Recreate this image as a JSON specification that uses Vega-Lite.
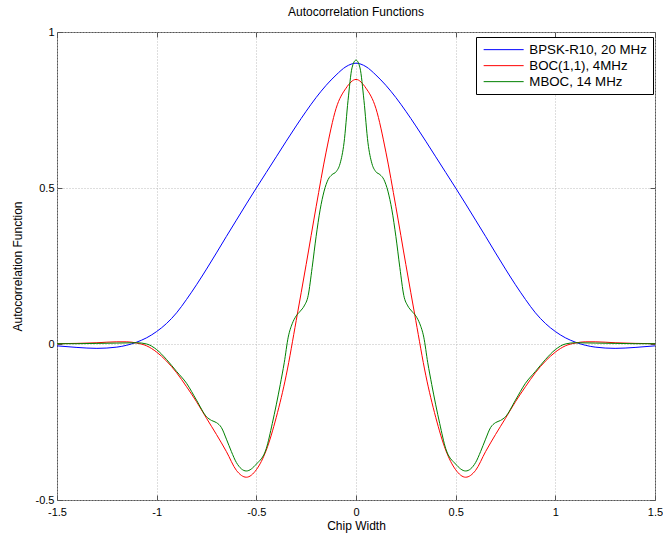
{
  "$schema": "https://vega.github.io/schema/vega-lite/v6.json",
  "width": 598,
  "height": 468,
  "autosize": {"type": "none"},
  "padding": {"left": 57, "top": 32, "right": 8, "bottom": 37},
  "background": "white",
  "config": {
    "font": "Liberation Sans",
    "view": {"stroke": "#555555", "strokeWidth": 1}
  },
  "title": {"text": "Autocorrelation Functions", "fontSize": 12, "fontWeight": "normal", "offset": 7, "color": "black", "font": "Liberation Sans"},
  "datasets": {
    "curves": [
      {"s": "BPSK-R10, 20 MHz", "x": -1.5, "y": -0.006},
      {"s": "BPSK-R10, 20 MHz", "x": -1.4, "y": -0.011},
      {"s": "BPSK-R10, 20 MHz", "x": -1.3, "y": -0.014},
      {"s": "BPSK-R10, 20 MHz", "x": -1.2, "y": -0.01},
      {"s": "BPSK-R10, 20 MHz", "x": -1.15, "y": -0.004},
      {"s": "BPSK-R10, 20 MHz", "x": -1.1, "y": 0.006},
      {"s": "BPSK-R10, 20 MHz", "x": -1.05, "y": 0.02},
      {"s": "BPSK-R10, 20 MHz", "x": -1.0, "y": 0.04},
      {"s": "BPSK-R10, 20 MHz", "x": -0.95, "y": 0.066},
      {"s": "BPSK-R10, 20 MHz", "x": -0.9, "y": 0.1},
      {"s": "BPSK-R10, 20 MHz", "x": -0.85, "y": 0.143},
      {"s": "BPSK-R10, 20 MHz", "x": -0.8, "y": 0.19},
      {"s": "BPSK-R10, 20 MHz", "x": -0.75, "y": 0.24},
      {"s": "BPSK-R10, 20 MHz", "x": -0.7, "y": 0.292},
      {"s": "BPSK-R10, 20 MHz", "x": -0.65, "y": 0.345},
      {"s": "BPSK-R10, 20 MHz", "x": -0.6, "y": 0.397},
      {"s": "BPSK-R10, 20 MHz", "x": -0.55, "y": 0.449},
      {"s": "BPSK-R10, 20 MHz", "x": -0.5, "y": 0.5},
      {"s": "BPSK-R10, 20 MHz", "x": -0.45, "y": 0.55},
      {"s": "BPSK-R10, 20 MHz", "x": -0.4, "y": 0.6},
      {"s": "BPSK-R10, 20 MHz", "x": -0.35, "y": 0.65},
      {"s": "BPSK-R10, 20 MHz", "x": -0.3, "y": 0.699},
      {"s": "BPSK-R10, 20 MHz", "x": -0.25, "y": 0.746},
      {"s": "BPSK-R10, 20 MHz", "x": -0.2, "y": 0.79},
      {"s": "BPSK-R10, 20 MHz", "x": -0.15, "y": 0.829},
      {"s": "BPSK-R10, 20 MHz", "x": -0.1, "y": 0.862},
      {"s": "BPSK-R10, 20 MHz", "x": -0.05, "y": 0.889},
      {"s": "BPSK-R10, 20 MHz", "x": 0, "y": 0.9},
      {"s": "BPSK-R10, 20 MHz", "x": 0.05, "y": 0.889},
      {"s": "BPSK-R10, 20 MHz", "x": 0.1, "y": 0.862},
      {"s": "BPSK-R10, 20 MHz", "x": 0.15, "y": 0.829},
      {"s": "BPSK-R10, 20 MHz", "x": 0.2, "y": 0.79},
      {"s": "BPSK-R10, 20 MHz", "x": 0.25, "y": 0.746},
      {"s": "BPSK-R10, 20 MHz", "x": 0.3, "y": 0.699},
      {"s": "BPSK-R10, 20 MHz", "x": 0.35, "y": 0.65},
      {"s": "BPSK-R10, 20 MHz", "x": 0.4, "y": 0.6},
      {"s": "BPSK-R10, 20 MHz", "x": 0.45, "y": 0.55},
      {"s": "BPSK-R10, 20 MHz", "x": 0.5, "y": 0.5},
      {"s": "BPSK-R10, 20 MHz", "x": 0.55, "y": 0.449},
      {"s": "BPSK-R10, 20 MHz", "x": 0.6, "y": 0.397},
      {"s": "BPSK-R10, 20 MHz", "x": 0.65, "y": 0.345},
      {"s": "BPSK-R10, 20 MHz", "x": 0.7, "y": 0.292},
      {"s": "BPSK-R10, 20 MHz", "x": 0.75, "y": 0.24},
      {"s": "BPSK-R10, 20 MHz", "x": 0.8, "y": 0.19},
      {"s": "BPSK-R10, 20 MHz", "x": 0.85, "y": 0.143},
      {"s": "BPSK-R10, 20 MHz", "x": 0.9, "y": 0.1},
      {"s": "BPSK-R10, 20 MHz", "x": 0.95, "y": 0.066},
      {"s": "BPSK-R10, 20 MHz", "x": 1.0, "y": 0.04},
      {"s": "BPSK-R10, 20 MHz", "x": 1.05, "y": 0.02},
      {"s": "BPSK-R10, 20 MHz", "x": 1.1, "y": 0.006},
      {"s": "BPSK-R10, 20 MHz", "x": 1.15, "y": -0.004},
      {"s": "BPSK-R10, 20 MHz", "x": 1.2, "y": -0.01},
      {"s": "BPSK-R10, 20 MHz", "x": 1.3, "y": -0.014},
      {"s": "BPSK-R10, 20 MHz", "x": 1.4, "y": -0.011},
      {"s": "BPSK-R10, 20 MHz", "x": 1.5, "y": -0.006},

      {"s": "BOC(1,1), 4MHz", "x": -1.5, "y": 0.001},
      {"s": "BOC(1,1), 4MHz", "x": -1.4, "y": 0.002},
      {"s": "BOC(1,1), 4MHz", "x": -1.3, "y": 0.004},
      {"s": "BOC(1,1), 4MHz", "x": -1.2, "y": 0.007},
      {"s": "BOC(1,1), 4MHz", "x": -1.15, "y": 0.007},
      {"s": "BOC(1,1), 4MHz", "x": -1.1, "y": 0.003},
      {"s": "BOC(1,1), 4MHz", "x": -1.05, "y": -0.006},
      {"s": "BOC(1,1), 4MHz", "x": -1.0, "y": -0.026},
      {"s": "BOC(1,1), 4MHz", "x": -0.95, "y": -0.055},
      {"s": "BOC(1,1), 4MHz", "x": -0.9, "y": -0.092},
      {"s": "BOC(1,1), 4MHz", "x": -0.85, "y": -0.137},
      {"s": "BOC(1,1), 4MHz", "x": -0.8, "y": -0.185},
      {"s": "BOC(1,1), 4MHz", "x": -0.75, "y": -0.238},
      {"s": "BOC(1,1), 4MHz", "x": -0.7, "y": -0.29},
      {"s": "BOC(1,1), 4MHz", "x": -0.65, "y": -0.345},
      {"s": "BOC(1,1), 4MHz", "x": -0.6, "y": -0.405},
      {"s": "BOC(1,1), 4MHz", "x": -0.55, "y": -0.427},
      {"s": "BOC(1,1), 4MHz", "x": -0.5, "y": -0.403},
      {"s": "BOC(1,1), 4MHz", "x": -0.45, "y": -0.34},
      {"s": "BOC(1,1), 4MHz", "x": -0.4, "y": -0.235},
      {"s": "BOC(1,1), 4MHz", "x": -0.35, "y": -0.1},
      {"s": "BOC(1,1), 4MHz", "x": -0.3, "y": 0.075},
      {"s": "BOC(1,1), 4MHz", "x": -0.25, "y": 0.255},
      {"s": "BOC(1,1), 4MHz", "x": -0.2, "y": 0.44},
      {"s": "BOC(1,1), 4MHz", "x": -0.15, "y": 0.615},
      {"s": "BOC(1,1), 4MHz", "x": -0.1, "y": 0.755},
      {"s": "BOC(1,1), 4MHz", "x": -0.05, "y": 0.82},
      {"s": "BOC(1,1), 4MHz", "x": 0, "y": 0.848},
      {"s": "BOC(1,1), 4MHz", "x": 0.05, "y": 0.82},
      {"s": "BOC(1,1), 4MHz", "x": 0.1, "y": 0.755},
      {"s": "BOC(1,1), 4MHz", "x": 0.15, "y": 0.615},
      {"s": "BOC(1,1), 4MHz", "x": 0.2, "y": 0.44},
      {"s": "BOC(1,1), 4MHz", "x": 0.25, "y": 0.255},
      {"s": "BOC(1,1), 4MHz", "x": 0.3, "y": 0.075},
      {"s": "BOC(1,1), 4MHz", "x": 0.35, "y": -0.1},
      {"s": "BOC(1,1), 4MHz", "x": 0.4, "y": -0.235},
      {"s": "BOC(1,1), 4MHz", "x": 0.45, "y": -0.34},
      {"s": "BOC(1,1), 4MHz", "x": 0.5, "y": -0.403},
      {"s": "BOC(1,1), 4MHz", "x": 0.55, "y": -0.427},
      {"s": "BOC(1,1), 4MHz", "x": 0.6, "y": -0.405},
      {"s": "BOC(1,1), 4MHz", "x": 0.65, "y": -0.345},
      {"s": "BOC(1,1), 4MHz", "x": 0.7, "y": -0.29},
      {"s": "BOC(1,1), 4MHz", "x": 0.75, "y": -0.238},
      {"s": "BOC(1,1), 4MHz", "x": 0.8, "y": -0.185},
      {"s": "BOC(1,1), 4MHz", "x": 0.85, "y": -0.137},
      {"s": "BOC(1,1), 4MHz", "x": 0.9, "y": -0.092},
      {"s": "BOC(1,1), 4MHz", "x": 0.95, "y": -0.055},
      {"s": "BOC(1,1), 4MHz", "x": 1.0, "y": -0.026},
      {"s": "BOC(1,1), 4MHz", "x": 1.05, "y": -0.006},
      {"s": "BOC(1,1), 4MHz", "x": 1.1, "y": 0.003},
      {"s": "BOC(1,1), 4MHz", "x": 1.15, "y": 0.007},
      {"s": "BOC(1,1), 4MHz", "x": 1.2, "y": 0.007},
      {"s": "BOC(1,1), 4MHz", "x": 1.3, "y": 0.004},
      {"s": "BOC(1,1), 4MHz", "x": 1.4, "y": 0.002},
      {"s": "BOC(1,1), 4MHz", "x": 1.5, "y": 0.001},

      {"s": "MBOC, 14 MHz", "x": -1.5, "y": 0.001},
      {"s": "MBOC, 14 MHz", "x": -1.4, "y": 0.001},
      {"s": "MBOC, 14 MHz", "x": -1.3, "y": 0.002},
      {"s": "MBOC, 14 MHz", "x": -1.2, "y": 0.003},
      {"s": "MBOC, 14 MHz", "x": -1.1, "y": 0.004},
      {"s": "MBOC, 14 MHz", "x": -1.05, "y": 0.0},
      {"s": "MBOC, 14 MHz", "x": -1.0, "y": -0.018},
      {"s": "MBOC, 14 MHz", "x": -0.95, "y": -0.05},
      {"s": "MBOC, 14 MHz", "x": -0.9, "y": -0.088},
      {"s": "MBOC, 14 MHz", "x": -0.85, "y": -0.126},
      {"s": "MBOC, 14 MHz", "x": -0.8, "y": -0.18},
      {"s": "MBOC, 14 MHz", "x": -0.75, "y": -0.233},
      {"s": "MBOC, 14 MHz", "x": -0.725, "y": -0.245},
      {"s": "MBOC, 14 MHz", "x": -0.7, "y": -0.252},
      {"s": "MBOC, 14 MHz", "x": -0.675, "y": -0.268},
      {"s": "MBOC, 14 MHz", "x": -0.65, "y": -0.305},
      {"s": "MBOC, 14 MHz", "x": -0.625, "y": -0.345},
      {"s": "MBOC, 14 MHz", "x": -0.6, "y": -0.38},
      {"s": "MBOC, 14 MHz", "x": -0.55, "y": -0.407},
      {"s": "MBOC, 14 MHz", "x": -0.5, "y": -0.385},
      {"s": "MBOC, 14 MHz", "x": -0.45, "y": -0.335},
      {"s": "MBOC, 14 MHz", "x": -0.42, "y": -0.255},
      {"s": "MBOC, 14 MHz", "x": -0.4, "y": -0.195},
      {"s": "MBOC, 14 MHz", "x": -0.38, "y": -0.13},
      {"s": "MBOC, 14 MHz", "x": -0.36, "y": -0.06},
      {"s": "MBOC, 14 MHz", "x": -0.34, "y": 0.022},
      {"s": "MBOC, 14 MHz", "x": -0.32, "y": 0.065},
      {"s": "MBOC, 14 MHz", "x": -0.3, "y": 0.09},
      {"s": "MBOC, 14 MHz", "x": -0.28, "y": 0.105},
      {"s": "MBOC, 14 MHz", "x": -0.26, "y": 0.122},
      {"s": "MBOC, 14 MHz", "x": -0.24, "y": 0.155},
      {"s": "MBOC, 14 MHz", "x": -0.22, "y": 0.245},
      {"s": "MBOC, 14 MHz", "x": -0.2, "y": 0.345},
      {"s": "MBOC, 14 MHz", "x": -0.18, "y": 0.43},
      {"s": "MBOC, 14 MHz", "x": -0.16, "y": 0.49},
      {"s": "MBOC, 14 MHz", "x": -0.14, "y": 0.527},
      {"s": "MBOC, 14 MHz", "x": -0.12, "y": 0.543},
      {"s": "MBOC, 14 MHz", "x": -0.1, "y": 0.552},
      {"s": "MBOC, 14 MHz", "x": -0.08, "y": 0.578},
      {"s": "MBOC, 14 MHz", "x": -0.06, "y": 0.645},
      {"s": "MBOC, 14 MHz", "x": -0.04, "y": 0.78},
      {"s": "MBOC, 14 MHz", "x": -0.02, "y": 0.885},
      {"s": "MBOC, 14 MHz", "x": 0, "y": 0.91},
      {"s": "MBOC, 14 MHz", "x": 0.02, "y": 0.885},
      {"s": "MBOC, 14 MHz", "x": 0.04, "y": 0.78},
      {"s": "MBOC, 14 MHz", "x": 0.06, "y": 0.645},
      {"s": "MBOC, 14 MHz", "x": 0.08, "y": 0.578},
      {"s": "MBOC, 14 MHz", "x": 0.1, "y": 0.552},
      {"s": "MBOC, 14 MHz", "x": 0.12, "y": 0.543},
      {"s": "MBOC, 14 MHz", "x": 0.14, "y": 0.527},
      {"s": "MBOC, 14 MHz", "x": 0.16, "y": 0.49},
      {"s": "MBOC, 14 MHz", "x": 0.18, "y": 0.43},
      {"s": "MBOC, 14 MHz", "x": 0.2, "y": 0.345},
      {"s": "MBOC, 14 MHz", "x": 0.22, "y": 0.245},
      {"s": "MBOC, 14 MHz", "x": 0.24, "y": 0.155},
      {"s": "MBOC, 14 MHz", "x": 0.26, "y": 0.122},
      {"s": "MBOC, 14 MHz", "x": 0.28, "y": 0.105},
      {"s": "MBOC, 14 MHz", "x": 0.3, "y": 0.09},
      {"s": "MBOC, 14 MHz", "x": 0.32, "y": 0.065},
      {"s": "MBOC, 14 MHz", "x": 0.34, "y": 0.022},
      {"s": "MBOC, 14 MHz", "x": 0.36, "y": -0.06},
      {"s": "MBOC, 14 MHz", "x": 0.38, "y": -0.13},
      {"s": "MBOC, 14 MHz", "x": 0.4, "y": -0.195},
      {"s": "MBOC, 14 MHz", "x": 0.42, "y": -0.255},
      {"s": "MBOC, 14 MHz", "x": 0.45, "y": -0.335},
      {"s": "MBOC, 14 MHz", "x": 0.5, "y": -0.385},
      {"s": "MBOC, 14 MHz", "x": 0.55, "y": -0.407},
      {"s": "MBOC, 14 MHz", "x": 0.6, "y": -0.38},
      {"s": "MBOC, 14 MHz", "x": 0.625, "y": -0.345},
      {"s": "MBOC, 14 MHz", "x": 0.65, "y": -0.305},
      {"s": "MBOC, 14 MHz", "x": 0.675, "y": -0.268},
      {"s": "MBOC, 14 MHz", "x": 0.7, "y": -0.252},
      {"s": "MBOC, 14 MHz", "x": 0.725, "y": -0.245},
      {"s": "MBOC, 14 MHz", "x": 0.75, "y": -0.233},
      {"s": "MBOC, 14 MHz", "x": 0.8, "y": -0.18},
      {"s": "MBOC, 14 MHz", "x": 0.85, "y": -0.126},
      {"s": "MBOC, 14 MHz", "x": 0.9, "y": -0.088},
      {"s": "MBOC, 14 MHz", "x": 0.95, "y": -0.05},
      {"s": "MBOC, 14 MHz", "x": 1.0, "y": -0.018},
      {"s": "MBOC, 14 MHz", "x": 1.05, "y": 0.0},
      {"s": "MBOC, 14 MHz", "x": 1.1, "y": 0.004},
      {"s": "MBOC, 14 MHz", "x": 1.2, "y": 0.003},
      {"s": "MBOC, 14 MHz", "x": 1.3, "y": 0.002},
      {"s": "MBOC, 14 MHz", "x": 1.4, "y": 0.001},
      {"s": "MBOC, 14 MHz", "x": 1.5, "y": 0.001}
    ]
  },
  "data": {"name": "curves"},
  "layer": [
    {
      "mark": {"type": "line", "strokeWidth": 1, "interpolate": "monotone", "clip": true},
      "encoding": {
        "x": {
          "field": "x", "type": "quantitative",
          "scale": {"domain": [-1.5, 1.5], "nice": false, "zero": false},
          "axis": {
            "title": "Chip Width", "values": [-1.5, -1, -0.5, 0, 0.5, 1, 1.5],
            "labelExpr": "toString(datum.value)",
            "grid": true, "gridDash": [1, 2], "gridColor": "#bdbdbd",
            "domain": false, "ticks": true, "tickSize": -5, "tickColor": "#555555",
            "labelFontSize": 11, "labelColor": "black", "labelPadding": 11,
            "labelFlush": false,
            "titleFontSize": 12, "titleFontWeight": "normal", "titleColor": "black", "titlePadding": 3
          }
        },
        "y": {
          "field": "y", "type": "quantitative",
          "scale": {"domain": [-0.5, 1], "nice": false, "zero": false},
          "axis": {
            "title": "Autocorrelation Function", "values": [-0.5, 0, 0.5, 1],
            "labelExpr": "toString(datum.value)",
            "grid": true, "gridDash": [1, 2], "gridColor": "#bdbdbd",
            "domain": false, "ticks": true, "tickSize": -5, "tickColor": "#555555",
            "labelFontSize": 11, "labelColor": "black", "labelPadding": 8,
            "labelFlush": false,
            "titleFontSize": 12, "titleFontWeight": "normal", "titleColor": "black", "titlePadding": 11
          }
        },
        "stroke": {
          "field": "s", "type": "nominal",
          "scale": {"domain": ["BPSK-R10, 20 MHz", "BOC(1,1), 4MHz", "MBOC, 14 MHz"], "range": ["#0000ff", "#ff0000", "#008000"]},
          "legend": {
            "title": null, "orient": "none", "legendX": 419, "legendY": 5,
            "symbolType": "M-0.833,0H5.833", "symbolSize": 144, "symbolStrokeWidth": 1,
            "labelFontSize": 13.3, "labelColor": "black", "labelOffset": 34,
            "strokeColor": "black", "fillColor": "white", "padding": 6, "rowPadding": 2,
            "encode": {"symbols": {"update": {"stroke": {"signal": "scale('stroke', datum.value)"}, "fill": {"value": "transparent"}}}}
          }
        }
      }
    },
    {
      "mark": {"type": "line", "strokeOpacity": 0},
      "encoding": {
        "x": {
          "field": "x", "type": "quantitative",
          "axis": {"orient": "top", "title": null, "labels": false, "grid": false, "domain": false, "values": [-1.5, -1, -0.5, 0, 0.5, 1, 1.5], "tickSize": -5, "tickColor": "#555555"}
        },
        "y": {
          "field": "y", "type": "quantitative",
          "axis": {"orient": "right", "title": null, "labels": false, "grid": false, "domain": false, "values": [-0.5, 0, 0.5, 1], "tickSize": -5, "tickColor": "#555555"}
        }
      }
    }
  ],
  "resolve": {"axis": {"x": "independent", "y": "independent"}}
}
